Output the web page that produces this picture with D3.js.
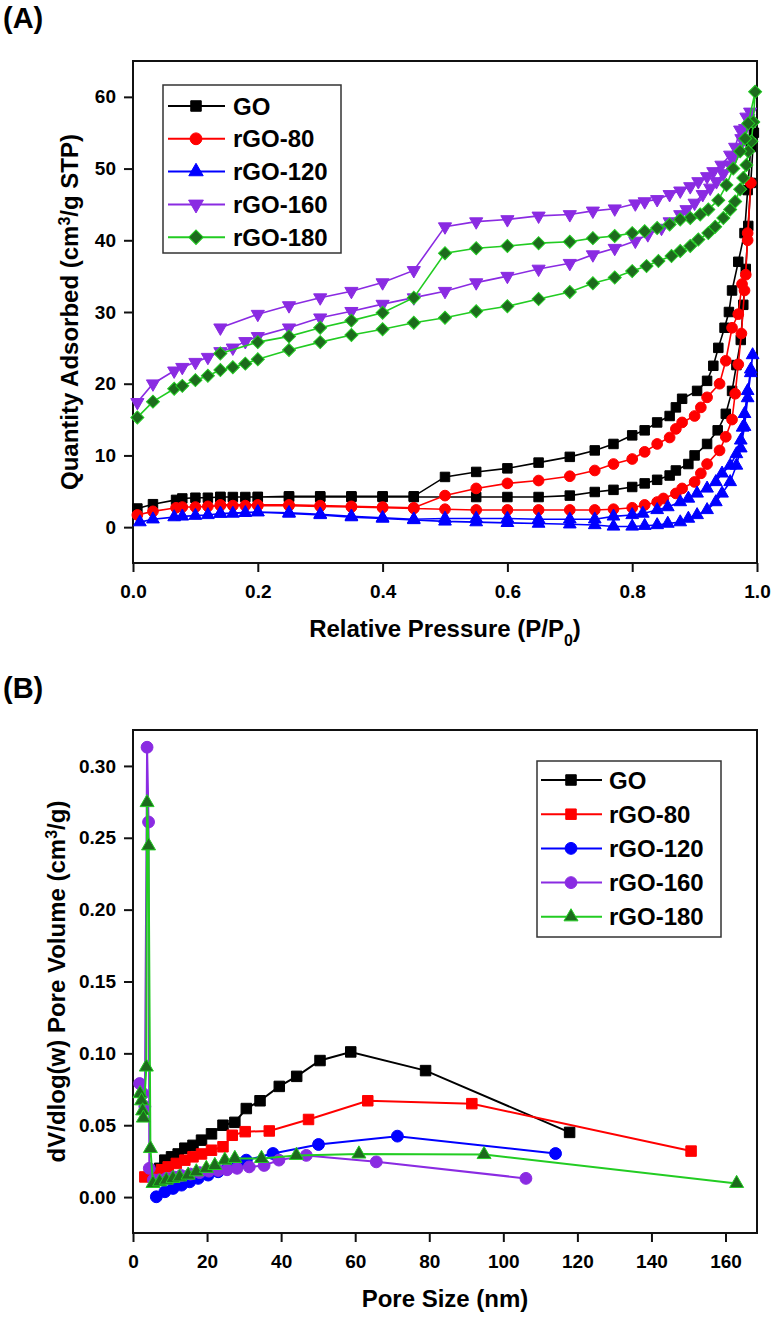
<!DOCTYPE html>
<html><head><meta charset="utf-8">
<script src="https://cdn.jsdelivr.net/npm/d3@7"></script>
<style>
body{margin:0;background:#fff}
text{font-family:"Liberation Sans",Arial,sans-serif;font-weight:bold;fill:#000}
</style>
</head><body>
<svg id="c" width="774" height="1317"></svg>
<script>
// ---------------- Panel A data: N2 isotherms [P/P0, Quantity] ----------------
const seriesA = ["GO","rGO-80","rGO-120","rGO-160","rGO-180"];
const goAds = [[0.007,2.6],[0.032,3.2],[0.069,3.8],[0.079,4.0],[0.1,4.1],[0.12,4.1],[0.14,4.2],[0.16,4.2],[0.18,4.2],[0.2,4.2],[0.25,4.2],[0.3,4.2],[0.35,4.2],[0.4,4.2],[0.45,4.2],[0.55,4.2],[0.6,4.2],[0.65,4.2],[0.7,4.4],[0.74,4.9],[0.77,5.2],[0.8,5.6],[0.82,6.1],[0.84,6.6],[0.86,7.2],[0.87,7.9],[0.89,8.8],[0.9,10.0],[0.92,11.6],[0.937,13.5],[0.95,15.8],[0.96,19.0],[0.967,22.6],[0.974,26.1],[0.978,31],[0.982,36],[0.986,42],[0.99,48],[0.995,55]];
const goDes = [[0.995,55],[0.99,53],[0.985,47],[0.98,41],[0.97,37],[0.96,33],[0.955,30],[0.948,27.8],[0.938,25],[0.93,22.5],[0.92,20.4],[0.904,19],[0.88,17.9],[0.87,16.7],[0.86,15.5],[0.84,14.6],[0.82,13.5],[0.8,12.8],[0.77,11.6],[0.74,10.7],[0.7,9.8],[0.65,9.0],[0.6,8.2],[0.55,7.7],[0.5,7.0],[0.45,4.3],[0.4,4.3],[0.35,4.3],[0.3,4.3],[0.25,4.3],[0.2,4.2],[0.14,4.2]];
const r80Ads = [[0.007,1.7],[0.032,2.2],[0.069,2.7],[0.079,2.8],[0.1,2.8],[0.12,2.9],[0.14,3.0],[0.16,3.0],[0.18,3.0],[0.2,3.0],[0.25,3.0],[0.3,2.9],[0.35,2.8],[0.4,2.7],[0.45,2.6],[0.5,2.5],[0.55,2.4],[0.6,2.4],[0.65,2.4],[0.7,2.4],[0.74,2.4],[0.77,2.5],[0.8,2.7],[0.82,3.1],[0.84,3.5],[0.85,4.0],[0.87,4.7],[0.88,5.4],[0.9,6.3],[0.91,7.5],[0.92,8.8],[0.94,10.7],[0.95,12.6],[0.96,15],[0.965,18.6],[0.97,22.7],[0.975,27],[0.98,33],[0.985,40],[0.99,48]];
const r80Des = [[0.99,48],[0.985,41],[0.982,35.2],[0.976,33.9],[0.97,29.7],[0.96,27.8],[0.95,23.2],[0.94,20],[0.92,18.1],[0.91,16.7],[0.9,15.5],[0.88,14.6],[0.87,13.7],[0.86,12.5],[0.84,11.6],[0.82,10.5],[0.8,9.5],[0.77,8.8],[0.74,7.9],[0.7,7.1],[0.65,6.5],[0.6,6.1],[0.55,5.4],[0.5,4.4],[0.45,2.7],[0.4,2.8],[0.35,2.9],[0.3,3.0],[0.25,3.1],[0.2,3.1],[0.14,3.1]];
const r120Ads = [[0.011,0.7],[0.032,1.1],[0.066,1.4],[0.079,1.5],[0.1,1.6],[0.12,1.7],[0.14,1.9],[0.16,1.9],[0.18,2.0],[0.2,2.1],[0.25,1.9],[0.3,1.7],[0.35,1.4],[0.4,1.2],[0.45,1.0],[0.5,0.8],[0.55,0.7],[0.6,0.6],[0.65,0.5],[0.7,0.4],[0.74,0.3],[0.77,0.1],[0.8,0.1],[0.82,0.2],[0.84,0.3],[0.857,0.5],[0.877,0.7],[0.89,1.2],[0.904,1.7],[0.92,2.4],[0.934,3.5],[0.944,4.7],[0.957,6.3],[0.967,8.6],[0.974,11],[0.98,14],[0.985,18],[0.99,21.5],[0.993,24]];
const r120Des = [[0.993,24],[0.99,22],[0.985,19],[0.98,15.8],[0.977,13.9],[0.974,12.1],[0.967,10.2],[0.957,8.6],[0.944,7.5],[0.934,6.3],[0.92,5.4],[0.904,4.7],[0.89,4.0],[0.877,3.5],[0.857,2.8],[0.84,2.4],[0.817,1.9],[0.8,1.7],[0.77,1.5],[0.74,1.1],[0.7,1.1],[0.65,1.1],[0.6,1.2],[0.55,1.2],[0.5,1.2],[0.45,1.1],[0.4,1.3],[0.35,1.5],[0.3,1.8],[0.25,2.0],[0.2,2.1],[0.14,1.9]];
const r160Ads = [[0.007,17.4],[0.032,20],[0.066,21.8],[0.079,22.3],[0.1,23],[0.12,23.7],[0.14,24.5],[0.16,25],[0.18,25.9],[0.2,26.6],[0.25,27.8],[0.3,29.2],[0.35,30.1],[0.4,31.1],[0.45,32],[0.5,32.9],[0.55,34.1],[0.6,35],[0.65,36],[0.7,36.8],[0.737,38],[0.772,38.9],[0.805,39.9],[0.825,40.8],[0.847,41.7],[0.86,42.6],[0.877,43.6],[0.887,44.3],[0.9,45.2],[0.913,46.4],[0.925,47.3],[0.935,48.2],[0.946,49.3],[0.957,50.5],[0.962,51.4],[0.97,52.8],[0.975,54.2],[0.981,55.6],[0.986,57],[0.989,57.9]];
const r160Des = [[0.989,57.9],[0.983,57.2],[0.973,55.4],[0.965,53],[0.957,51.9],[0.943,50.5],[0.93,49.6],[0.92,48.9],[0.906,48.2],[0.893,47.5],[0.877,46.9],[0.86,46.4],[0.84,45.7],[0.82,45.4],[0.805,45.1],[0.772,44.4],[0.737,44.1],[0.7,43.6],[0.65,43.4],[0.6,42.9],[0.55,42.6],[0.5,41.9],[0.45,35.8],[0.4,34.1],[0.35,32.9],[0.3,32],[0.25,30.9],[0.2,29.7],[0.14,27.8]];
const r180Ads = [[0.007,15.3],[0.032,17.5],[0.066,19.3],[0.079,19.7],[0.1,20.5],[0.12,21.1],[0.14,21.9],[0.16,22.3],[0.18,22.8],[0.2,23.4],[0.25,24.7],[0.3,25.8],[0.35,26.8],[0.4,27.6],[0.45,28.5],[0.5,29.2],[0.55,30.1],[0.6,30.8],[0.65,31.8],[0.7,32.8],[0.737,34],[0.772,34.8],[0.8,35.7],[0.823,36.4],[0.842,37.1],[0.863,37.8],[0.877,38.5],[0.893,39.2],[0.906,40.1],[0.922,41],[0.933,41.9],[0.946,43.1],[0.957,44.3],[0.965,45.4],[0.973,47.1],[0.978,48.7],[0.983,50.5],[0.986,52.4],[0.991,53.8],[0.994,56.5],[0.997,60.7]];
const r180Des = [[0.997,60.7],[0.986,56.3],[0.981,54.2],[0.973,52.4],[0.962,50],[0.951,47.7],[0.938,45.6],[0.922,44.3],[0.909,43.6],[0.893,43.1],[0.877,42.9],[0.86,42.2],[0.84,41.7],[0.82,41.25],[0.8,41],[0.772,40.6],[0.737,40.3],[0.7,39.8],[0.65,39.6],[0.6,39.2],[0.55,38.9],[0.5,38.2],[0.45,32],[0.4,29.9],[0.35,28.8],[0.3,27.8],[0.25,26.6],[0.2,25.8],[0.14,24.2]];
const xTicksA = [0,0.2,0.4,0.6,0.8,1.0];
const yTicksA = [0,10,20,30,40,50,60];

// ---------------- Panel B data: pore size distribution [nm, dV/dlog(w)] ----------------
const seriesB = ["GO","rGO-80","rGO-120","rGO-160","rGO-180"];
const goPSD = [[7.2,0.020],[8.6,0.0257],[10.4,0.028],[12.2,0.030],[14,0.034],[16.2,0.036],[18.5,0.0396],[21.2,0.044],[24.3,0.05],[27.5,0.052],[30.6,0.0616],[34.3,0.067],[39.5,0.077],[44.2,0.084],[50.5,0.095],[58.8,0.101],[79,0.088],[117.9,0.045]];
const r80PSD = [[3.2,0.014],[5.4,0.0165],[7.7,0.019],[9.5,0.021],[11.7,0.0234],[14,0.0257],[16.2,0.028],[18.5,0.030],[21.2,0.0326],[24.3,0.035],[26.8,0.043],[30.3,0.0455],[36.8,0.046],[47.4,0.054],[63.4,0.067],[91.5,0.065],[150.7,0.032]];
const r120PSD = [[6.3,0.0002],[8.6,0.0037],[10.8,0.006],[13.1,0.0083],[15.3,0.0106],[17.6,0.013],[20.3,0.0153],[23,0.0176],[25.7,0.021],[28.4,0.0234],[30.6,0.0257],[37.8,0.0303],[50.1,0.0366],[71.4,0.0424],[114.1,0.0303]];
const r160PSD = [[1.8,0.079],[2.7,0.072],[3.2,0.063],[3.8,0.313],[4.2,0.261],[4.4,0.020],[5.5,0.012],[7,0.012],[9,0.013],[11,0.014],[13,0.015],[15.5,0.016],[18,0.017],[20.5,0.018],[23,0.0185],[25.4,0.019],[28.1,0.020],[31.4,0.021],[35.4,0.022],[39.4,0.0257],[46.8,0.029],[65.7,0.0245],[106.1,0.013]];
const r180PSD = [[1.9,0.072],[2.3,0.067],[2.6,0.060],[2.8,0.055],[3.6,0.0905],[3.8,0.2745],[4.2,0.2444],[4.7,0.0338],[5.4,0.0095],[7.2,0.0106],[9,0.0118],[10.8,0.013],[12.6,0.014],[14.9,0.0153],[17.1,0.0176],[19.8,0.020],[22.1,0.022],[24.8,0.0257],[27.5,0.0269],[34.7,0.0269],[44.1,0.029],[61,0.030],[94.8,0.0296],[163,0.0095]];
const xTicksB = [0,20,40,60,80,100,120,140,160];
const yTicksB = [0.00,0.05,0.10,0.15,0.20,0.25,0.30];

// ---------------- drawing ----------------
const svg = d3.select("#c");
svg.append("rect").attr("width",774).attr("height",1317).attr("fill","#fff");

const GREEN_LINE = "#22cc22", GREEN_FILL = "#1d6b1d";
const PURPLE = "#8a2be2";

function markerPath(type, size){
  const map = {square:d3.symbolSquare, circle:d3.symbolCircle, triUp:d3.symbolTriangle, triDown:d3.symbolTriangle, diamond:d3.symbolSquare};
  return d3.symbol().type(map[type]).size(size)();
}
function markerRot(type){ return type==="triDown"?180:(type==="diamond"?45:0); }

function drawMarker(g, type, size, x, y, fill, stroke){
  g.append("path").attr("d", markerPath(type,size))
   .attr("transform",`translate(${x},${y}) rotate(${markerRot(type)})`)
   .attr("fill",fill).attr("stroke",stroke).attr("stroke-width",1);
}

function axes(g, x, y, xt, yt, xMinor, yMinor, xf, yf, L, R, T, B){
  const gx = g.append("g").attr("transform",`translate(0,${B})`);
  gx.call(d3.axisBottom(x).tickValues(xMinor).tickSize(5).tickFormat(""));
  gx.call(d3.axisBottom(x).tickValues(xt).tickSize(9).tickFormat(xf));
  const gy = g.append("g").attr("transform",`translate(${L},0)`);
  gy.call(d3.axisLeft(y).tickValues(yMinor).tickSize(5).tickFormat(""));
  gy.call(d3.axisLeft(y).tickValues(yt).tickSize(9).tickFormat(yf));
  g.selectAll(".domain").remove();
  g.selectAll(".tick line").attr("stroke","#111").attr("stroke-width",2);
  gx.selectAll(".tick text").attr("y",35).attr("dy",0).style("font-size","19px").style("font-family",'"Liberation Sans",Arial,sans-serif').style("font-weight","bold").attr("fill","#000");
  gy.selectAll(".tick text").attr("x",-17).style("font-size","19px").style("font-family",'"Liberation Sans",Arial,sans-serif').style("font-weight","bold").attr("fill","#000");
  g.append("rect").attr("x",L).attr("y",T).attr("width",R-L).attr("height",B-T)
   .attr("fill","none").attr("stroke","#111").attr("stroke-width",2);
}

function range(a,b,s){const r=[];for(let v=a;v<=b+1e-9;v+=s)r.push(+v.toFixed(6));return r;}

// ---- Panel A ----
const LA=133,RA=757,TA=61,BA=563;
const xA = d3.scaleLinear().domain([0,1]).range([LA,RA]);
const yA = d3.scaleLinear().domain([-5,65]).range([BA,TA]);
const gA = svg.append("g");
axes(gA, xA, yA, xTicksA, yTicksA, range(0,1,0.1), range(-5,65,5), d3.format(".1f"), d3.format("d"), LA,RA,TA,BA);

const styleA = [
  {data:[goAds,goDes], type:"square", size:90, line:"#000", fill:"#000", stroke:"#000"},
  {data:[r80Ads,r80Des], type:"circle", size:90, line:"#ff0000", fill:"#ff0000", stroke:"#ff0000"},
  {data:[r120Ads,r120Des], type:"triUp", size:70, line:"#0000ff", fill:"#0000ff", stroke:"#0000ff"},
  {data:[r160Ads,r160Des], type:"triDown", size:75, line:PURPLE, fill:PURPLE, stroke:PURPLE},
  {data:[r180Ads,r180Des], type:"diamond", size:85, line:GREEN_LINE, fill:GREEN_FILL, stroke:GREEN_LINE}
];
const lineA = d3.line().x(d=>xA(d[0])).y(d=>yA(d[1]));
styleA.forEach(s=>{
  const g = gA.append("g");
  const pts = s.data[0].concat(s.data[1].slice(1));
  g.append("path").attr("d",lineA(pts)).attr("fill","none").attr("stroke",s.line).attr("stroke-width",1.6);
  pts.forEach(p=>drawMarker(g,s.type,s.size,xA(p[0]),yA(p[1]),s.fill,s.stroke));
});

// legend A
const legA = gA.append("g");
legA.append("rect").attr("x",163).attr("y",85).attr("width",178).attr("height",168).attr("fill","#fff").attr("stroke","#333").attr("stroke-width",1.5);
seriesA.forEach((name,i)=>{
  const s = styleA[i], yy = 106 + i*32.8;
  legA.append("line").attr("x1",168).attr("x2",225).attr("y1",yy).attr("y2",yy).attr("stroke",s.line).attr("stroke-width",2);
  drawMarker(legA,s.type,s.size+20,196,yy,s.fill,s.stroke);
  legA.append("text").attr("x",233).attr("y",yy).attr("dy","0.36em").style("font-size","24px").text(name);
});

// axis titles A
svg.append("text").attr("x",3).attr("y",28).style("font-size","29px").text("(A)");
const tA = svg.append("text").attr("x",(LA+RA)/2).attr("y",637).attr("text-anchor","middle").style("font-size","24px");
tA.append("tspan").text("Relative Pressure (P/P");
tA.append("tspan").attr("baseline-shift","sub").style("font-size","16px").text("0");
tA.append("tspan").text(")");
const tAy = svg.append("text").attr("transform",`translate(78,${(TA+BA)/2}) rotate(-90)`).attr("text-anchor","middle").style("font-size","24px");
tAy.append("tspan").text("Quantity Adsorbed (cm");
tAy.append("tspan").attr("baseline-shift","super").style("font-size","16px").text("3");
tAy.append("tspan").text("/g STP)");

// ---- Panel B ----
const LB=133,RB=757,TB=730,BB=1233;
const xB = d3.scaleLinear().domain([0,168.5]).range([LB,RB]);
const yB = d3.scaleLinear().domain([-0.025,0.325]).range([BB,TB]);
const gB = svg.append("g");
axes(gB, xB, yB, xTicksB, yTicksB, range(0,160,10), range(-0.025,0.325,0.025), d3.format("d"), d3.format(".2f"), LB,RB,TB,BB);

const styleB = [
  {data:goPSD, type:"square", size:110, line:"#000", fill:"#000", stroke:"#000"},
  {data:r80PSD, type:"square", size:110, line:"#ff0000", fill:"#ff0000", stroke:"#ff0000"},
  {data:r120PSD, type:"circle", size:110, line:"#0000ff", fill:"#0000ff", stroke:"#0000ff"},
  {data:r160PSD, type:"circle", size:110, line:PURPLE, fill:PURPLE, stroke:PURPLE},
  {data:r180PSD, type:"triUp", size:85, line:GREEN_LINE, fill:GREEN_FILL, stroke:GREEN_LINE}
];
const lineB = d3.line().x(d=>xB(d[0])).y(d=>yB(d[1]));
styleB.forEach(s=>{
  const g = gB.append("g");
  g.append("path").attr("d",lineB(s.data)).attr("fill","none").attr("stroke",s.line).attr("stroke-width",2);
  s.data.forEach(p=>drawMarker(g,s.type,s.size,xB(p[0]),yB(p[1]),s.fill,s.stroke));
});

// legend B
const legB = gB.append("g");
legB.append("rect").attr("x",537).attr("y",761).attr("width",184).attr("height",176).attr("fill","#fff").attr("stroke","#333").attr("stroke-width",1.5);
seriesB.forEach((name,i)=>{
  const s = styleB[i], yy = 780 + i*34.2;
  legB.append("line").attr("x1",541).attr("x2",602).attr("y1",yy).attr("y2",yy).attr("stroke",s.line).attr("stroke-width",2);
  drawMarker(legB,s.type,s.size,571,yy,s.fill,s.stroke);
  legB.append("text").attr("x",609).attr("y",yy).attr("dy","0.36em").style("font-size","24px").text(name);
});

svg.append("text").attr("x",3).attr("y",698).style("font-size","29px").text("(B)");
svg.append("text").attr("x",(LB+RB)/2).attr("y",1307).attr("text-anchor","middle").style("font-size","24px").text("Pore Size (nm)");
const tBy = svg.append("text").attr("transform",`translate(65,${(TB+BB)/2}) rotate(-90)`).attr("text-anchor","middle").style("font-size","24px");
tBy.append("tspan").text("dV/dlog(w) Pore Volume (cm");
tBy.append("tspan").attr("baseline-shift","super").style("font-size","16px").text("3");
tBy.append("tspan").text("/g)");
</script>
</body></html>
